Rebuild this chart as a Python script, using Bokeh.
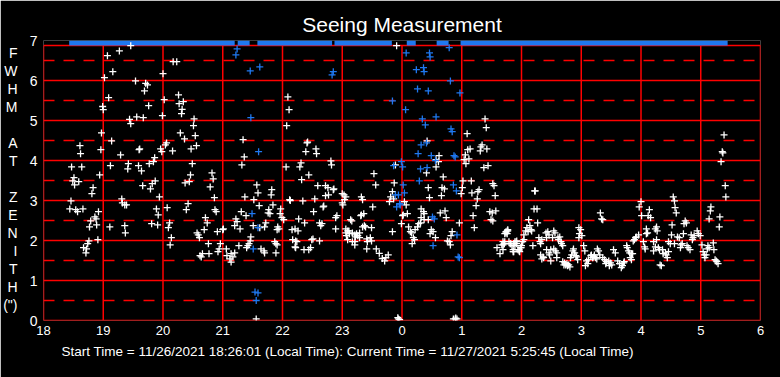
from bokeh.plotting import figure
from bokeh.models import FixedTicker, Title, LinearAxis
from bokeh.embed import file_html
from bokeh.resources import INLINE

# ---------------- data ----------------
title_text = "Seeing Measurement"
footer_text = "Start Time = 11/26/2021 18:26:01 (Local Time): Current Time = 11/27/2021 5:25:45 (Local Time)"
# vertical y-axis caption, one letter per row, spread down the axis
ylabel_letters = ["F", "W", "H", "M", "A", "T", "Z", "E", "N", "I", "T", "H", "(\")"]
ylabel_rows = [6.7, 6.25, 5.8, 5.35, 4.45, 4.0, 3.1, 2.65, 2.2, 1.75, 1.3, 0.85, 0.4]

x_ticks = [18, 19, 20, 21, 22, 23, 24, 25, 26, 27, 28, 29, 30]
x_tick_labels = ["18", "19", "20", "21", "22", "23", "0", "1", "2", "3", "4", "5", "6"]
y_ticks = [0, 1, 2, 3, 4, 5, 6, 7]

# periods where the measurement is off scale (>= 7"), drawn on the top edge
band_start = [18.43, 21.25, 21.58, 22.87, 24.08, 24.58, 24.98]
band_end = [21.20, 21.45, 22.83, 23.83, 24.23, 24.78, 29.45]

# (local hour, FWHM arcsec) - valid measurements
white_points = [
    (19.07, 6.62), (19.27, 6.74), (19.46, 6.87), (20.17, 6.47), (20.23, 6.47), (19.16, 6.22), (19.02, 6.07),
    (19.54, 5.99), (20.0, 6.17), (19.71, 5.93), (19.74, 5.89), (19.69, 5.74), (19.09, 5.57), (20.02, 5.52),
    (20.26, 5.64), (20.27, 5.42), (20.34, 5.47), (19.76, 5.37), (18.99, 5.35), (19.0, 5.27), (20.32, 5.28),
    (20.31, 5.17), (19.44, 5.03), (19.46, 4.92), (19.56, 5.09), (19.67, 5.07), (19.99, 5.12), (20.52, 5.04),
    (20.51, 4.87),
    (18.97, 4.69), (18.61, 4.37), (18.62, 4.17), (18.96, 4.27), (19.14, 4.49), (19.29, 4.14), (19.6, 4.27),
    (19.61, 4.29), (19.96, 4.29), (19.98, 4.22), (20.04, 4.39), (20.06, 4.44), (20.16, 4.24), (20.29, 4.69),
    (20.36, 4.54), (20.54, 4.62), (20.47, 4.29), (20.56, 4.37), (19.86, 4.07), (19.84, 3.97), (19.77, 3.92),
    (20.49, 3.92), (18.47, 3.84), (18.64, 3.84), (19.12, 3.87), (19.42, 3.92), (19.41, 3.79), (19.59, 3.87),
    (19.64, 3.74), (18.94, 3.64), (18.51, 3.57), (18.49, 3.49), (18.52, 3.39), (18.59, 3.47), (18.83, 3.32),
    (18.81, 3.17), (19.66, 3.37), (19.79, 3.29), (19.82, 3.42), (19.87, 3.49), (20.46, 3.64), (20.44, 3.47),
    (20.37, 3.44), (20.82, 3.69), (20.84, 3.54), (20.79, 3.34), (19.94, 3.09), (20.86, 3.07), (18.46, 2.99),
    (19.31, 3.04), (19.32, 2.94), (19.36, 2.89), (19.39, 2.89), (18.44, 2.79), (18.54, 2.77), (18.57, 2.72),
    (18.66, 2.79), (18.92, 2.72), (19.89, 2.79), (19.92, 2.64), (20.07, 2.82), (20.39, 2.77), (20.42, 2.92),
    (20.87, 2.77), (20.89, 2.72), (18.86, 2.59), (18.88, 2.54), (18.79, 2.49), (18.77, 2.34), (18.89, 2.39),
    (19.11, 2.34), (19.36, 2.37), (19.37, 2.19), (19.81, 2.42), (19.91, 2.39), (20.11, 2.44), (20.09, 2.32),
    (20.71, 2.57), (20.74, 2.44), (20.69, 2.27), (20.91, 2.22), (21.0, 2.27), (21.01, 2.29), (20.14, 2.07),
    (20.12, 1.89), (20.57, 2.19), (20.59, 2.14), (20.61, 2.07), (20.76, 1.92), (18.91, 2.02), (18.76, 1.99),
    (18.74, 1.92), (18.67, 1.82), (18.72, 1.79), (18.71, 1.69), (20.96, 1.92), (20.94, 1.79), (20.92, 1.72),
    (21.06, 1.79), (21.07, 1.62), (21.14, 1.67), (21.17, 1.59), (21.2, 1.69), (20.66, 1.67), (20.64, 1.59),
    (20.62, 1.62), (20.77, 1.67), (21.34, 4.52), (21.36, 4.09), (21.32, 3.89), (21.57, 3.39), (21.59, 3.19),
    (21.52, 3.02), (21.61, 2.87), (21.37, 3.09), (21.31, 2.72), (21.39, 2.62), (21.22, 2.54), (21.24, 2.47),
    (21.29, 2.29), (21.2, 2.37), (21.51, 2.37), (21.62, 2.32), (21.47, 2.09), (21.46, 1.99), (21.44, 1.92),
    (21.42, 1.87), (21.27, 1.87), (21.4, 1.82), (21.64, 1.79), (21.12, 1.54), (21.14, 1.46), (21.56, 0.04),
    (23.91, 6.87), (22.09, 5.59), (22.11, 5.27), (25.39, 5.04), (25.41, 4.82), (22.07, 4.87), (25.09, 4.67),
    (22.41, 4.44), (22.42, 4.46), (22.56, 4.29), (22.57, 4.17), (22.39, 4.22), (24.42, 4.49), (25.14, 4.29),
    (25.1, 4.27), (25.34, 4.39), (25.32, 4.34), (25.31, 4.24), (25.42, 4.29), (25.06, 4.14), (25.12, 4.04),
    (25.04, 4.02), (25.07, 3.92), (24.62, 4.12), (24.57, 4.02), (24.61, 3.97), (24.57, 3.84), (22.81, 3.99),
    (22.82, 3.89), (22.31, 3.94), (22.29, 3.84), (22.06, 3.84), (23.89, 3.89), (25.37, 3.82), (25.44, 3.87),
    (22.44, 3.64), (22.32, 3.52), (23.53, 3.67), (23.56, 3.39), (22.59, 3.37), (22.72, 3.37), (22.76, 3.32),
    (21.82, 3.27), (21.81, 3.14), (22.85, 3.27), (22.86, 3.29), (23.87, 3.44), (24.41, 3.69), (24.44, 3.32),
    (24.46, 3.07), (24.69, 3.59), (24.67, 3.32), (24.71, 3.29), (24.66, 3.12), (23.84, 3.22), (23.81, 3.09),
    (23.79, 2.97), (23.86, 3.04), (24.04, 2.97), (24.07, 2.89), (25.02, 3.49), (25.16, 3.49), (25.01, 3.32),
    (24.99, 3.17), (25.17, 3.19), (25.29, 3.27), (25.27, 3.22), (25.52, 3.42), (25.54, 3.37), (25.56, 3.12),
    (25.26, 3.04), (25.24, 2.87), (22.54, 3.04), (22.34, 2.99), (22.12, 3.02), (22.13, 3.0), (22.68, 2.84),
    (22.69, 2.86), (23.0, 3.17), (23.03, 3.14), (23.06, 3.09), (23.04, 3.02), (22.72, 3.12), (22.77, 3.14),
    (23.32, 3.09), (23.34, 3.02), (23.0, 2.94), (23.01, 2.89), (23.51, 2.84), (21.84, 2.89), (21.77, 2.77),
    (21.76, 2.69), (21.79, 2.67), (21.97, 2.79), (21.96, 2.67), (21.99, 2.57), (22.02, 2.52), (22.52, 2.72),
    (22.91, 2.62), (22.89, 2.57), (23.32, 2.64), (23.36, 2.67), (23.31, 2.62), (23.14, 2.52), (23.16, 2.49),
    (22.27, 2.54), (22.37, 2.44), (21.72, 2.44), (21.7, 2.34), (21.92, 2.34), (21.91, 2.27), (21.94, 2.29),
    (22.16, 2.27), (22.21, 2.29), (22.26, 2.24), (22.62, 2.44), (22.64, 2.37), (22.66, 2.42), (22.89, 2.29),
    (23.06, 2.29), (23.09, 2.24), (23.12, 2.17), (23.07, 2.12), (23.06, 2.19), (23.24, 2.17), (23.26, 2.12),
    (23.22, 2.09), (23.29, 2.19), (23.21, 1.97), (23.17, 1.97), (23.34, 2.34), (23.39, 2.34), (23.49, 2.32),
    (23.41, 2.04), (23.47, 2.07), (23.49, 1.99), (23.42, 1.97), (22.17, 2.02), (22.22, 1.99), (22.24, 1.97),
    (21.87, 1.97), (21.89, 1.92), (21.91, 1.89), (21.89, 1.69), (22.21, 1.84), (22.22, 1.82), (22.36, 1.77),
    (22.44, 1.77), (22.47, 1.82), (22.49, 2.02), (22.51, 2.04), (22.62, 1.99), (23.41, 1.79), (21.69, 1.74),
    (21.7, 1.69), (23.57, 1.79), (23.62, 1.68), (23.67, 1.55), (23.71, 1.49), (23.73, 1.57), (23.77, 1.64),
    (23.84, 2.22), (23.99, 2.42), (24.01, 2.62), (24.02, 2.64), (24.09, 2.67), (24.11, 2.34), (24.14, 2.22),
    (24.16, 2.19), (24.19, 2.07), (24.21, 2.02), (24.17, 1.92), (24.22, 2.27), (24.26, 2.34), (24.28, 2.42),
    (24.31, 2.44), (24.32, 2.79), (24.36, 2.72), (24.37, 2.67), (24.32, 2.57), (24.37, 2.52), (24.44, 2.52),
    (24.49, 2.27), (24.52, 2.22), (24.56, 2.07), (24.47, 2.17), (24.64, 2.69), (24.72, 2.74), (24.74, 2.57),
    (24.84, 2.22), (24.82, 2.12), (24.76, 1.99), (24.79, 1.97), (24.81, 1.89), (24.96, 2.44), (25.21, 2.32),
    (25.19, 2.62), (25.47, 2.72), (25.51, 2.69), (25.49, 2.52), (25.52, 2.49), (25.57, 2.74), (25.74, 2.22),
    (25.76, 2.17), (25.77, 2.24), (25.69, 1.89), (25.71, 1.92), (25.72, 1.97), (25.59, 1.82), (25.64, 1.67),
    (25.69, 1.77), (25.81, 1.92), (25.89, 1.97), (25.92, 1.99), (25.96, 1.77), (25.99, 1.82), (25.86, 1.72),
    (23.93, 0.07), (23.94, 0.04), (23.96, 0.02), (24.86, 0.04), (24.89, 0.04), (24.92, 0.04), (24.9, 0.06),
    (23.21, 1.89), (23.11, 2.24), (23.17, 2.19), (23.21, 2.14), (23.09, 2.02), (23.29, 2.07), (23.37, 2.37),
    (29.39, 4.64), (29.36, 4.22), (29.37, 4.19), (29.34, 3.97), (29.41, 3.37), (29.42, 3.09), (26.22, 3.24),
    (26.23, 3.24), (26.21, 2.79), (26.26, 2.79), (26.12, 2.52), (26.27, 2.44), (27.32, 2.69), (27.34, 2.54),
    (27.36, 2.52), (28.0, 2.97), (27.97, 2.84), (28.01, 2.62), (28.14, 2.77), (28.12, 2.62), (28.16, 2.57),
    (28.54, 3.09), (28.56, 2.99), (28.57, 2.82), (28.59, 2.69), (29.17, 2.84), (29.16, 2.74), (29.14, 2.54),
    (29.32, 2.59), (29.31, 2.34), (28.74, 2.49), (28.76, 2.44), (28.72, 2.42), (28.52, 2.39), (28.26, 2.34),
    (28.27, 2.24), (28.24, 2.29), (28.09, 2.29), (28.11, 2.19), (28.09, 2.17), (28.51, 2.14), (28.61, 2.09),
    (28.64, 2.07), (28.71, 2.17), (28.84, 2.14), (28.87, 2.07), (28.94, 2.24), (28.89, 2.12), (28.86, 2.02),
    (28.99, 2.12), (28.96, 2.17), (27.89, 2.02), (27.91, 2.07), (27.92, 2.09), (27.96, 2.14), (27.87, 1.99),
    (28.04, 1.97), (28.06, 1.84), (28.07, 1.79), (28.21, 1.97), (28.24, 1.84), (28.21, 1.74), (28.29, 1.82),
    (28.31, 1.77), (28.26, 2.02), (28.36, 1.77), (28.41, 1.69), (28.42, 1.64), (28.44, 1.57), (28.37, 1.67),
    (28.46, 1.72), (28.32, 1.39), (28.34, 1.37), (28.46, 1.97), (28.49, 1.92), (28.56, 1.92), (28.66, 1.82),
    (28.67, 1.89), (28.69, 1.92), (28.79, 1.82), (28.82, 1.77), (28.77, 1.87), (29.02, 1.89), (29.04, 1.72),
    (29.06, 1.64), (29.07, 1.57), (29.09, 1.64), (29.12, 1.87), (29.14, 1.82), (29.11, 1.79), (29.22, 1.77),
    (29.21, 1.94), (29.24, 1.52), (29.26, 1.49), (29.29, 1.42), (29.27, 1.47),
    (25.74, 2.19), (25.76, 2.24), (25.77, 2.27), (25.72, 2.17), (25.69, 1.97), (25.71, 1.92), (25.67, 1.89),
    (25.79, 1.97), (25.82, 1.92), (25.84, 1.87), (25.87, 1.92), (25.91, 1.97), (25.92, 1.92), (25.89, 1.87),
    (25.94, 1.77), (25.96, 1.74), (25.99, 1.82), (26.0, 1.87), (26.02, 1.97), (26.04, 2.02), (25.97, 1.72),
    (25.86, 1.77), (25.87, 1.72), (26.04, 2.14), (26.07, 2.24), (26.09, 2.32), (26.11, 2.22), (26.16, 2.27),
    (26.17, 2.24), (26.14, 2.37), (26.19, 1.87), (26.29, 2.07), (26.31, 1.97), (26.32, 1.92), (26.34, 2.02),
    (26.42, 2.07), (26.41, 2.19), (26.44, 2.22), (26.46, 2.14), (26.54, 2.24), (26.56, 2.19), (26.52, 2.07),
    (26.61, 2.07), (26.64, 2.09), (26.62, 2.02), (26.32, 1.64), (26.36, 1.59), (26.37, 1.57), (26.34, 1.54),
    (26.42, 1.77), (26.46, 1.69), (26.49, 1.77), (26.47, 1.64), (26.49, 1.49), (26.54, 1.79), (26.57, 1.74),
    (26.59, 1.69), (26.66, 1.97), (26.67, 1.92), (26.69, 1.87), (26.59, 1.57), (26.69, 1.47), (26.72, 1.44),
    (26.74, 1.39), (26.77, 1.37), (26.81, 1.34), (26.76, 1.42), (26.71, 1.39), (26.79, 1.39), (26.84, 1.64),
    (26.86, 1.74), (26.87, 1.79), (26.89, 1.69), (26.91, 1.62), (26.92, 1.59), (26.94, 1.52), (26.82, 1.57),
    (26.96, 2.32), (26.99, 2.27), (26.97, 2.17), (27.01, 2.12), (26.96, 2.07), (27.04, 1.87), (27.06, 1.74),
    (27.09, 1.49), (27.07, 1.37), (27.11, 1.42), (27.12, 1.52), (27.16, 1.62), (27.17, 1.64), (27.21, 1.59),
    (27.22, 1.64), (27.24, 1.57), (27.27, 1.79), (27.29, 1.74), (27.31, 1.64), (27.26, 1.54), (27.19, 1.57),
    (27.36, 1.57), (27.39, 1.52), (27.42, 1.47), (27.41, 1.42), (27.46, 1.49), (27.49, 1.44), (27.47, 1.37),
    (27.51, 1.39), (27.54, 1.77), (27.57, 1.69), (27.61, 1.49), (27.64, 1.42), (27.67, 1.32), (27.69, 1.37),
    (27.71, 1.44), (27.72, 1.47), (27.76, 1.87), (27.77, 1.82), (27.79, 1.74), (27.81, 1.69), (27.84, 1.67),
    (27.82, 1.57), (27.84, 1.52), (27.86, 1.67),
]

# (local hour, FWHM arcsec) - flagged measurements
blue_points = [
    (21.24, 6.79), (21.22, 6.64), (21.46, 6.24), (21.62, 6.34), (21.47, 5.07), (21.6, 4.22), (21.49, 2.67),
    (21.59, 2.32), (21.51, 1.79), (21.54, 0.71), (21.59, 0.69), (21.56, 0.5),
    (24.07, 6.69), (24.46, 6.69), (24.47, 6.59), (24.79, 6.82), (22.85, 6.22), (22.83, 6.14), (24.24, 6.27),
    (24.36, 6.32), (24.37, 6.22), (24.81, 5.99), (24.26, 5.79), (24.44, 5.74), (24.97, 5.69), (23.84, 5.49),
    (24.06, 5.27), (24.34, 5.04), (24.57, 5.09), (24.39, 4.89), (24.82, 4.79), (24.84, 4.72), (24.32, 4.39),
    (24.41, 4.44), (24.27, 4.17), (24.49, 4.12), (24.87, 4.12), (24.89, 4.09), (23.99, 3.97), (24.01, 3.84),
    (23.86, 3.87), (24.31, 3.79), (24.42, 3.82), (24.56, 4.0),
    (24.29, 3.49), (24.86, 3.39), (24.91, 3.24), (24.02, 3.39), (24.04, 3.19), (23.89, 3.14), (23.94, 3.14),
    (23.96, 2.92), (23.91, 2.84), (23.97, 2.89), (24.51, 2.59), (24.54, 2.54), (24.52, 1.87), (24.92, 2.14),
    (24.94, 1.59), (24.96, 1.57),
]

white_hour = [p[0] for p in white_points]
white_fwhm = [p[1] for p in white_points]
blue_hour = [p[0] for p in blue_points]
blue_fwhm = [p[1] for p in blue_points]

# ---------------- style ----------------
RED = "#ff0000"
BLUE = "#1f78f0"
FONT = "Liberation Sans"
X0, X1 = 18, 30
TOP = 6.875  # red frame top edge

p = figure(width=780, height=377, x_range=(X0, X1), y_range=(0, 7),
           output_backend="svg", toolbar_location=None,
           min_border_left=40, min_border_right=20, min_border_top=40, min_border_bottom=57,
           background_fill_color="black", border_fill_color="black")
p.outline_line_color = None
p.xgrid.visible = False
p.ygrid.visible = False

# title on top
p.title.text = title_text
p.title.align = "center"
p.title.text_color = "white"
p.title.text_font = FONT
p.title.text_font_style = "normal"
p.title.text_font_size = "21px"
p.title.standoff = 10

for ax in (p.xaxis[0], p.yaxis[0]):
    ax.axis_line_color = None
    ax.major_tick_line_color = None
    ax.minor_tick_line_color = None
    ax.major_tick_out = 0
    ax.major_tick_in = 0
    ax.minor_tick_out = 0
    ax.minor_tick_in = 0
    ax.major_label_text_color = "white"
    ax.major_label_text_font = FONT

p.xaxis.ticker = FixedTicker(ticks=x_ticks)
p.xaxis.major_label_overrides = {t: s for t, s in zip(x_ticks, x_tick_labels)}
p.xaxis.major_label_text_font_size = "13px"
p.xaxis.major_label_standoff = 5
p.yaxis.ticker = FixedTicker(ticks=y_ticks)
p.yaxis.major_label_text_font_size = "14px"
p.yaxis.major_label_standoff = 6

# vertical caption "FWHM AT ZENITH (")" as a second, label-only left axis
cap_axis = LinearAxis(ticker=FixedTicker(ticks=ylabel_rows),
                      major_label_overrides={v: s for v, s in zip(ylabel_rows, ylabel_letters)})
cap_axis.axis_line_color = None
cap_axis.major_tick_line_color = None
cap_axis.minor_tick_line_color = None
cap_axis.major_tick_out = 0
cap_axis.major_tick_in = 0
cap_axis.minor_tick_out = 0
cap_axis.minor_tick_in = 0
cap_axis.major_label_standoff = 9
cap_axis.major_label_text_color = "white"
cap_axis.major_label_text_font = FONT
cap_axis.major_label_text_font_size = "14px"
p.add_layout(cap_axis, "left")

# footer line under the x axis
p.add_layout(Title(text=footer_text, align="left", offset=18, vertical_align="top", standoff=13,
                   text_color="white", text_font=FONT, text_font_style="normal",
                   text_font_size="13.5px"), "below")

# grid: dashed half-units, solid integers, verticals at each hour
half = [y + 0.5 for y in y_ticks[:-1]]
p.segment(x0=[X0] * len(half), y0=half, x1=[X1] * len(half), y1=half,
          line_color=RED, line_width=1.5, line_dash="11 9")
solid_y = y_ticks[:-1] + [TOP]
p.segment(x0=[X0] * len(solid_y), y0=solid_y, x1=[X1] * len(solid_y), y1=solid_y,
          line_color=RED, line_width=1.5)
p.segment(x0=x_ticks, y0=[0] * len(x_ticks), x1=x_ticks, y1=[TOP] * len(x_ticks),
          line_color=RED, line_width=1.5)

# off-scale band at the top
p.quad(left=band_start, right=band_end, bottom=[TOP] * len(band_start), top=[7] * len(band_start),
       fill_color=BLUE, line_color=None)

p.scatter(white_hour, white_fwhm, marker="cross", size=7, line_color="white", line_width=1.3)
p.scatter(blue_hour, blue_fwhm, marker="cross", size=7, line_color=BLUE, line_width=1.3)

open("out.html", "w").write(file_html(p, INLINE))
